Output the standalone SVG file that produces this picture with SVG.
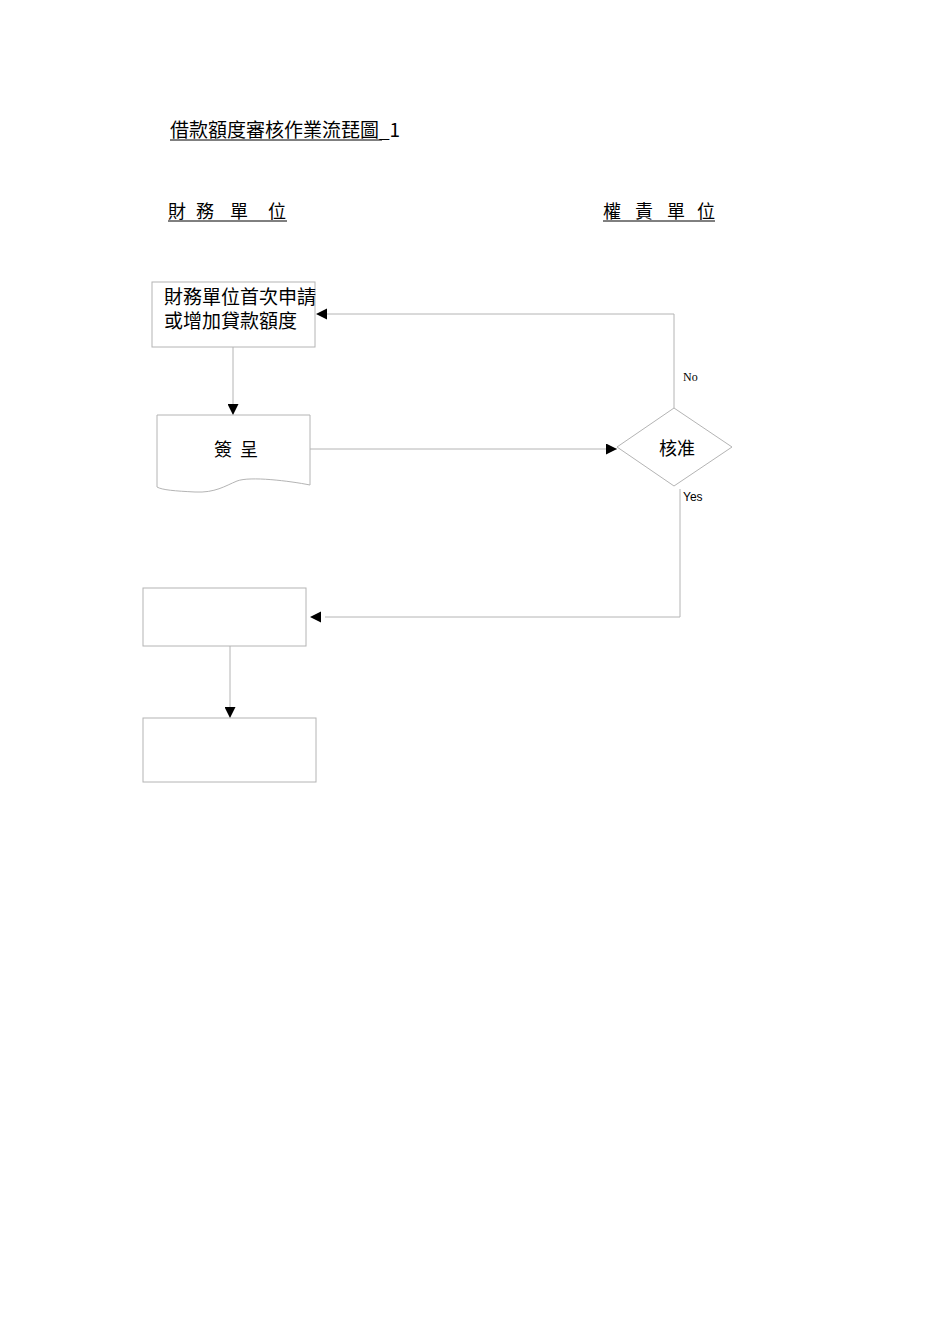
<svg xmlns="http://www.w3.org/2000/svg" width="950" height="1344" viewBox="0 0 950 1344">
<defs>
<style>
.cjk{font-family:"Noto Sans CJK TC","Noto Sans CJK SC",sans-serif;fill:#000}
.shape{fill:#fff;stroke:#b4b4b4;stroke-width:1}
.conn{fill:none;stroke:#b4b4b4;stroke-width:1}
.ul{stroke:#000;stroke-width:1}
</style>
<marker id="arr" markerWidth="11" markerHeight="11" refX="11" refY="5.5" orient="auto" markerUnits="userSpaceOnUse">
<path d="M0,0 L11,5.5 L0,11 Z" fill="#000"/>
</marker>
</defs>
<rect width="950" height="1344" fill="#fff"/>
<g id="title">
<text class="cjk" x="170" y="137" font-size="19">借款額度審核作業流琵圖_1</text>
<line class="ul" x1="170" y1="140" x2="382" y2="140"/>
</g>
<g id="lane-left">
<text class="cjk" font-size="18" y="218"><tspan x="168">財</tspan><tspan x="196">務</tspan><tspan x="230">單</tspan><tspan x="268">位</tspan></text>
<line class="ul" x1="168" y1="221" x2="287" y2="221"/>
</g>
<g id="lane-right">
<text class="cjk" font-size="18" y="218"><tspan x="603">權</tspan><tspan x="635">責</tspan><tspan x="667">單</tspan><tspan x="697">位</tspan></text>
<line class="ul" x1="603" y1="221" x2="715" y2="221"/>
</g>
<g id="connectors">
<line class="conn" x1="233" y1="347" x2="233" y2="415" marker-end="url(#arr)"/>
<line class="conn" x1="310" y1="449" x2="617" y2="449" marker-end="url(#arr)"/>
<polyline class="conn" points="674,408 674,314 326,314"/>
<path d="M327,308.5 L316,314 L327,319.5 Z" fill="#000"/>
<polyline class="conn" points="680,489 680,617 325,617"/>
<path d="M321,611.5 L310,617 L321,622.5 Z" fill="#000"/>
<line class="conn" x1="230" y1="646" x2="230" y2="718" marker-end="url(#arr)"/>
<text x="683" y="381" font-family="Liberation Serif,serif" font-size="12">No</text>
<text x="683" y="501" font-family="Liberation Sans,sans-serif" font-size="12">Yes</text>
</g>
<g id="node-apply">
<rect class="shape" x="152" y="282" width="163" height="65"/>
<text class="cjk" font-size="19" x="164" y="304">財務單位首次申請</text>
<text class="cjk" font-size="19" x="164" y="328">或增加貸款額度</text>
</g>
<g id="node-submit">
<path class="shape" d="M157,415 L310,415 L310,485 C290,481 250,476 237,481 C225,486 215,493 195,492 C175,491 162,490 157,487 Z"/>
<text class="cjk" font-size="18" y="456"><tspan x="214">簽</tspan><tspan x="240">呈</tspan></text>
</g>
<g id="node-approve">
<polygon class="shape" points="674,408 732,447 674,486 617,447"/>
<text class="cjk" font-size="18" x="677" y="455" text-anchor="middle">核准</text>
</g>
<g id="node-step3">
<rect class="shape" x="143" y="588" width="163" height="58"/>
</g>
<g id="node-step4">
<rect class="shape" x="143" y="718" width="173" height="64"/>
</g>
</svg>
